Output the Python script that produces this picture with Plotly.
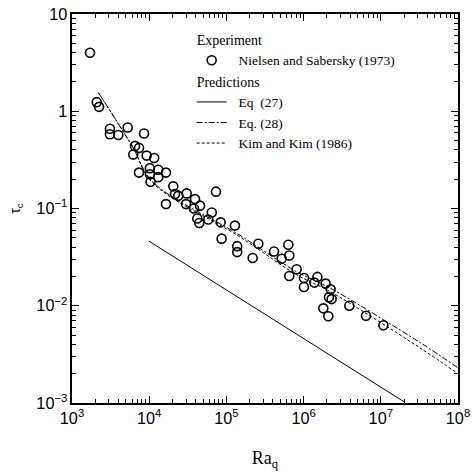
import plotly.graph_objects as go

# Measured critical times (Nielsen and Sabersky, 1973)
ra_exp = [1710, 2090, 2240, 3100, 3100, 3980, 5260, 8570, 6550, 7380,
          6220, 9270, 11600, 7380, 10200, 10200, 13100, 10400, 13100, 16500,
          20500, 16500, 21600, 23800, 30600, 30000, 39200, 38000, 45500, 64600,
          73300, 42000, 44500, 58300, 84300, 129000, 86700, 138000, 138000, 219000,
          259000, 414000, 634000, 520000, 653000, 813000, 653000, 1.01e6, 1.01e6, 1.51e6,
          1.38e6, 1.93e6, 2.24e6, 2.13e6, 2.31e6, 1.8e6, 2.09e6, 3.91e6, 6.43e6, 1.08e7]
tau_exp = [4.0, 1.24, 1.11, 0.66, 0.58, 0.57, 0.68, 0.59, 0.44, 0.42,
           0.36, 0.35, 0.33, 0.234, 0.26, 0.225, 0.25, 0.188, 0.21, 0.234,
           0.169, 0.111, 0.141, 0.135, 0.143, 0.111, 0.125, 0.100, 0.107, 0.091,
           0.149, 0.079, 0.071, 0.077, 0.072, 0.0667, 0.049, 0.041, 0.0356, 0.031,
           0.0434, 0.0361, 0.0424, 0.0304, 0.0329, 0.0237, 0.0202, 0.0193, 0.0156, 0.0198,
           0.0173, 0.0169, 0.0148, 0.0122, 0.0117, 0.0094, 0.0078, 0.0100, 0.0079, 0.0063]

# Eq (27)
ra_eq27 = [1e4, 2e7]
tau_eq27 = [0.046, 0.00103]

# Eq (28)
ra_eq28 = [2200, 6000, 11000, 150000, 800000, 2.2e6, 3.2e7, 1e8]
tau_eq28 = [1.55, 0.44, 0.19, 0.053, 0.0225, 0.0152, 0.0042, 0.0023]

# Kim and Kim (1986)
ra_kim = [2200, 6000, 11000, 150000, 800000, 2.2e6, 3.2e7, 1e8]
tau_kim = [1.55, 0.44, 0.185, 0.051, 0.021, 0.014, 0.0037, 0.0020]

serif = "Liberation Serif, Times New Roman, serif"
sans = "Liberation Sans, Arial, sans-serif"
pad = "\u00a0\u00a0"

fig = go.Figure()
fig.add_trace(go.Scatter(
    x=ra_exp, y=tau_exp, mode="markers", name=pad + "Nielsen and Sabersky (1973)",
    legendgroup="exp", legendgrouptitle=dict(text="Experiment"),
    marker=dict(symbol="circle-open", size=9, color="black", line=dict(width=1.6, color="black")),
))
fig.add_trace(go.Scatter(
    x=ra_eq27, y=tau_eq27, mode="lines", name=pad + "Eq  (27)",
    legendgroup="pred", legendgrouptitle=dict(text="Predictions"),
    line=dict(color="black", width=1),
))
fig.add_trace(go.Scatter(
    x=ra_eq28, y=tau_eq28, mode="lines", name=pad + "Eq. (28)",
    legendgroup="pred", line=dict(color="black", width=1, dash="6px,2px,2px,2px", shape="spline"),
))
fig.add_trace(go.Scatter(
    x=ra_kim, y=tau_kim, mode="lines", name=pad + "Kim and Kim (1986)",
    legendgroup="pred", line=dict(color="black", width=1, dash="3px,2px", shape="spline"),
))

axis_common = dict(
    type="log", dtick=1, exponentformat="power", showgrid=False, zeroline=False,
    showline=True, linecolor="black", linewidth=2, mirror="ticks", automargin=False,
    ticks="inside", ticklen=7, tickwidth=1.2, tickcolor="black",
    minor=dict(ticks="inside", ticklen=4, tickwidth=1, tickcolor="black", showgrid=False),
    tickfont=dict(family=sans, size=13, color="black"),
)

fig.update_xaxes(range=[3, 8], title=dict(text="Ra<sub>q</sub>", font=dict(family=serif, size=18, color="black"), standoff=26), **axis_common)
fig.update_yaxes(range=[-3, 1], title=dict(text="τ<sub>c</sub>", font=dict(family=sans, size=14, color="black"), standoff=12), **axis_common)

fig.update_layout(
    width=472, height=475,
    margin=dict(l=72, r=14, t=14, b=72),
    paper_bgcolor="white", plot_bgcolor="white",
    legend=dict(x=0.31, y=0.975, xanchor="left", yanchor="top", bgcolor="rgba(0,0,0,0)",
                font=dict(family=serif, size=13.5, color="black"),
                grouptitlefont=dict(family=serif, size=14, color="black"),
                tracegroupgap=0),
)

fig.write_html("out.html")
